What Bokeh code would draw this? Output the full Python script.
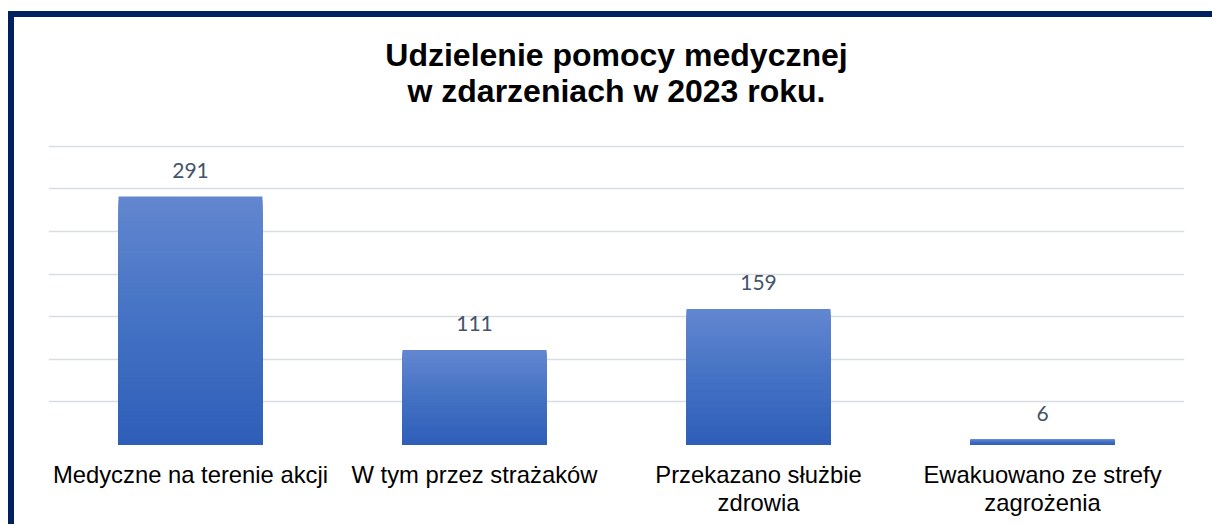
from bokeh.plotting import figure
from bokeh.models import FixedTicker, Label, ColumnDataSource
from bokeh.layouts import column
from bokeh.core.properties import value
from bokeh.embed import file_html
from bokeh.resources import INLINE

# ---- data ----
categories = ["Medyczne na terenie akcji", "W tym przez strażaków",
              "Przekazano służbie\nzdrowia", "Ewakuowano ze strefy\nzagrożenia"]
values = [291, 111, 159, 6]
grid_ticks = [0, 50, 100, 150, 200, 250, 300, 350]
title_lines = ["Udzielenie pomocy medycznej", "w zdarzeniach w 2023 roku."]

# ---- styles ----
FRAME = "#002060"
C_TOP = (99, 135, 208)
C_MID = (68, 114, 196)
C_BOT = (46, 94, 184)


def grad(t):
    if t < 0.5:
        a, b, u = C_BOT, C_MID, t / 0.5
    else:
        a, b, u = C_MID, C_TOP, (t - 0.5) / 0.5
    return "#%02x%02x%02x" % tuple(int(round(a[i] + (b[i] - a[i]) * u)) for i in range(3))


p = figure(x_range=categories, y_range=(0, 501), width=1198, height=507,
           output_backend="svg", toolbar_location=None,
           min_border_left=34, min_border_right=28, min_border_top=0,
           min_border_bottom=80)
p.outline_line_color = None
p.background_fill_color = "white"
p.border_fill_color = "white"

# gradient bars: paint from tallest slice (top colour) down to shortest
N = 60
for k in range(N, 0, -1):
    src = ColumnDataSource(dict(x=categories, top=[v * k / N for v in values]))
    p.vbar(x="x", top="top", bottom=0, width=0.507, source=src,
           fill_color=grad((k - 0.5) / N), line_color=None)

# data labels
p.text(x=categories, y=values, text=[str(v) for v in values],
       text_align="center", text_baseline="alphabetic", y_offset=-26,
       text_font=value("Lato"), text_font_size="21px", text_color="#44546A")

# title
for i, line in enumerate(title_lines):
    p.add_layout(Label(x=2, y=[457, 415][i], text=line, text_align="center",
                       text_baseline="alphabetic", text_font="Liberation Sans",
                       text_font_style="bold", text_font_size="32px",
                       text_color="black"))

# grid & axes
p.xgrid.visible = False
p.ygrid.ticker = FixedTicker(ticks=grid_ticks)
p.ygrid.grid_line_color = "#D9DDE3"
p.ygrid.grid_line_width = 1.5
p.yaxis.visible = False
p.xaxis.axis_line_color = None
p.xaxis.major_tick_line_color = None
p.xaxis.minor_tick_line_color = None
p.xaxis.major_label_standoff = 10
p.xaxis.major_label_text_font = "Liberation Sans"
p.xaxis.major_label_text_font_size = "23.8px"
p.xaxis.major_label_text_line_height = 1.07
p.xaxis.major_label_text_color = "black"

lay = column(p, styles={"border-top": f"6px solid {FRAME}",
                        "border-left": f"6px solid {FRAME}",
                        "margin-top": "11px", "margin-left": "8px"})

open("out.html", "w").write(file_html(lay, INLINE))
